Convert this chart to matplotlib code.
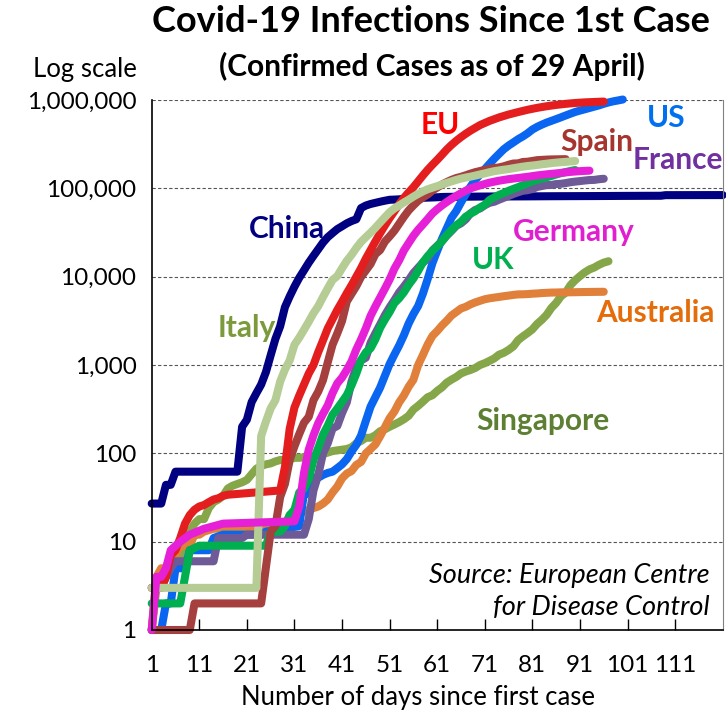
#Python libraries for math and graphics
import numpy as np
import matplotlib
matplotlib.use('Agg')
import matplotlib.pyplot as plt

plt.rcParams['font.family'] = ['Lato', 'DejaVu Sans']

#Confirmed cases (day since first case, cumulative cases)
china_day = [1, 3, 4, 5, 6, 19, 20, 21, 22, 23, 24, 25, 26, 27, 28, 29, 30, 31, 32, 33, 34,
             35, 36, 37, 38, 39, 40, 41, 42, 43, 44, 45, 46, 47, 48, 49, 50, 51, 52, 53, 54,
             55, 56, 57, 58, 59, 60, 61, 62, 63, 66, 70, 75, 80, 85, 90, 95, 100, 105, 108,
             109, 115, 121]
china_cases = [27, 27, 44, 44, 62, 62, 200, 240, 380, 480, 600, 830, 1287, 1975, 2744, 4515,
               5974, 7711, 9692, 11791, 14380, 17205, 20438, 24324, 28018, 31161, 34546, 37198,
               40171, 42638, 44653, 59804, 63851, 66492, 68500, 70548, 72436, 74185, 74576,
               75077, 76119, 76767, 77150, 77658, 78064, 78497, 78824, 79251, 79824, 80026,
               80300, 80700, 80900, 81100, 81400, 81600, 81800, 82100, 82300, 82400, 83700,
               83800, 83900]

singapore_day = list(range(1, 98))
singapore_cases = [1, 3, 3, 4, 5, 5, 7, 10, 13, 16, 18, 18, 24, 28, 30, 33, 40, 43, 45, 47,
                   50, 58, 67, 72, 75, 77, 81, 84, 84, 85, 89, 89, 90, 91, 93, 96, 98, 102,
                   106, 108, 110, 112, 117, 130, 138, 150, 150, 160, 178, 187, 200, 212, 226,
                   243, 266, 313, 345, 385, 432, 455, 509, 558, 631, 683, 732, 802, 844, 879,
                   926, 1000, 1049, 1114, 1189, 1309, 1375, 1481, 1623, 1910, 2108, 2299, 2532,
                   2918, 3252, 3699, 4427, 5050, 5992, 6588, 8014, 9125, 10141, 11178, 12075,
                   12693, 13624, 14423, 14951]

australia_day = [1, 2, 3, 4, 5, 6, 7, 9, 10, 11, 12, 14, 29, 30, 31, 32, 33, 35, 36, 37, 38,
                 39, 40, 41, 42, 43, 44, 45, 46, 47, 48, 49, 50, 51, 52, 53, 54, 55, 56, 57,
                 58, 59, 60, 61, 62, 63, 64, 65, 66, 67, 68, 69, 70, 71, 72, 73, 74, 75, 76,
                 77, 78, 79, 80, 81, 82, 83, 84, 85, 86, 87, 88, 89, 90, 91, 92, 93, 94, 95, 96]
australia_cases = [1, 4, 5, 5, 6, 7, 9, 9, 12, 12, 13, 14, 15, 20, 21, 21, 22, 24, 25, 27, 30,
                   36, 42, 52, 59, 63, 74, 80, 100, 112, 126, 156, 197, 250, 297, 377, 452, 568,
                   681, 1000, 1300, 1709, 2136, 2423, 2799, 3166, 3633, 3978, 4361, 4559, 4862,
                   5116, 5330, 5550, 5687, 5797, 5895, 6010, 6108, 6215, 6303, 6315, 6351, 6415,
                   6458, 6523, 6565, 6606, 6619, 6645, 6649, 6654, 6667, 6687, 6703, 6713, 6725,
                   6735, 6744]

us_day = [1, 3, 4, 5, 6, 8, 9, 13, 14, 16, 24, 25, 32, 33, 34, 35, 36, 37, 38, 39, 40] + list(range(41, 101))
us_cases = [1, 1, 2, 2, 5, 5, 8, 8, 11, 12, 12, 13, 15, 35, 35, 53, 53, 57, 60, 62, 68,
            75, 86, 105, 125, 159, 233, 338, 433, 554, 754, 1025, 1312, 1663, 2174, 2951,
            3774, 4661, 6427, 9415, 14250, 19624, 26747, 35206, 46442, 55231, 69194, 85991,
            104686, 124665, 143025, 164620, 189618, 216721, 245540, 277205, 304826, 330891,
            360000, 386800, 419975, 462780, 496535, 526396, 555313, 580619, 607670, 636350,
            667801, 699706, 732197, 759086, 784326, 811865, 840351, 869170, 905358, 938154,
            965785, 988197, 1012582]

france_day = [1, 3, 4, 5, 6, 14, 15, 20, 21, 33] + list(range(34, 97))
france_cases = [3, 3, 4, 5, 6, 6, 11, 11, 12, 12, 18, 38, 57, 100, 130, 191, 204, 285, 377,
                653, 949, 1126, 1209, 1784, 2281, 2876, 3661, 4499, 5423, 6633, 7730, 9134,
                10995, 12612, 14459, 16018, 19856, 22302, 25233, 29155, 32964, 37575, 40174,
                44550, 52128, 56989, 59105, 64338, 68605, 70478, 74390, 78167, 82048, 86334,
                90276, 93790, 95403, 98076, 103573, 106206, 108847, 109252, 111821, 112606,
                114657, 117324, 119151, 120804, 122577, 124114, 124575, 126835, 128339]

uk_day = [1, 7, 8, 9, 11, 25, 26, 28] + list(range(29, 91))
uk_cases = [2, 2, 4, 8, 9, 9, 13, 13, 15, 20, 23, 36, 40, 51, 85, 115, 163, 206, 273, 321,
            382, 456, 590, 798, 1140, 1391, 1543, 1950, 2626, 3269, 3983, 5018, 5683, 6650,
            8077, 9529, 11658, 14543, 17089, 19522, 22141, 25150, 29474, 33718, 38168, 41903,
            47806, 51608, 55242, 60733, 65077, 73758, 78991, 84279, 88621, 93873, 98476,
            103093, 108692, 114217, 120067, 124743, 129044, 133495, 138078, 143464, 148377,
            152840, 157149, 161145]

spain_day = [1, 9, 10, 24] + list(range(26, 89))
spain_cases = [1, 1, 2, 2, 13, 15, 32, 45, 84, 120, 165, 222, 259, 400, 500, 673, 1073, 1695,
               2277, 3146, 5232, 6391, 7798, 9942, 11748, 13910, 17963, 19980, 24926, 28572,
               33089, 39673, 47610, 56188, 64059, 72248, 78797, 85195, 94417, 102136, 110238,
               117710, 124736, 130759, 135032, 140510, 146690, 152446, 157022, 161852, 166019,
               169496, 172541, 177644, 184948, 190839, 191726, 198674, 200210, 204178, 208389,
               210000, 211500, 212500, 213000, 213500, 214000]

eu_day = list(range(1, 18)) + [28] + list(range(29, 69)) + [70, 72, 74, 76, 78, 80, 82, 84, 86, 88, 90, 92, 94, 96]
eu_cases = [3, 3, 3, 4, 7, 8, 11, 16, 20, 23, 25, 26, 28, 30, 31, 33, 34, 38, 70, 190, 330,
            450, 600, 800, 1000, 1400, 1900, 2600, 3300, 4200, 5200, 6500, 8000, 10000, 12500,
            16000, 20000, 25000, 31000, 38000, 46000, 55000, 66000, 78000, 90000, 103000,
            120000, 140000, 162000, 185000, 210000, 240000, 275000, 310000, 345000, 380000,
            415000, 450000, 520000, 580000, 635000, 685000, 730000, 775000, 815000, 850000,
            880000, 905000, 925000, 940000, 950000, 960000]

italy_day = [1, 23] + list(range(24, 91))
italy_cases = [3, 3, 157, 229, 322, 400, 650, 888, 1128, 1694, 2036, 2502, 3089, 3858, 4636,
               5883, 7375, 9172, 10149, 12462, 15113, 17660, 21157, 24747, 27980, 31506, 35713,
               41035, 47021, 53578, 59138, 63927, 69176, 74386, 80589, 86498, 92472, 97689,
               101739, 105792, 110574, 115242, 119827, 124632, 128948, 132547, 135586, 139422,
               143626, 147577, 152271, 156363, 159516, 162488, 165155, 168941, 172434, 175925,
               178972, 181228, 183957, 187327, 189973, 192994, 195351, 197675, 199414, 201505,
               203591]

germany_day = [1, 2, 3, 4, 5, 7, 9, 12, 16, 31] + list(range(32, 94))
germany_cases = [1, 4, 4, 5, 8, 10, 12, 14, 16, 17, 25, 60, 110, 160, 220, 280, 350, 480, 620,
                 720, 880, 1100, 1500, 1950, 2600, 3600, 4600, 5800, 7300, 9300, 12300, 15300,
                 19800, 24000, 29000, 34000, 39000, 45000, 52000, 58000, 64000, 70000, 76000,
                 82000, 88000, 94000, 100000, 104000, 108000, 112000, 116000, 119000, 122000,
                 124500, 127000, 129000, 131000, 133000, 135000, 137500, 140000, 142000,
                 144000, 146000, 147500, 149500, 151500, 153500, 155000, 156500, 157500,
                 158500]

#series in drawing order: data, line colour
series = [
    (china_day, china_cases, '#000080'),
    (singapore_day, singapore_cases, '#86A64A'),
    (australia_day, australia_cases, '#E0803A'),
    (us_day, us_cases, '#0A66F0'),
    (france_day, france_cases, '#6E5A96'),
    (uk_day, uk_cases, '#00B050'),
    (spain_day, spain_cases, '#A5403F'),
    (eu_day, eu_cases, '#E41E1E'),
    (italy_day, italy_cases, '#B5CC95'),
    (germany_day, germany_cases, '#E620D7'),
]

#country labels: text, pixel position, colour
labels = [
    ('EU', 440, 125, '#FF0000'),
    ('US', 666, 118, '#0070F0'),
    ('Spain', 597, 142, '#A5352E'),
    ('France', 678, 160, '#7030A0'),
    ('China', 287, 229, '#000080'),
    ('Germany', 574, 232, '#E020D0'),
    ('UK', 493, 260, '#00B050'),
    ('Italy', 247, 328, '#7C9A3C'),
    ('Australia', 655, 313, '#E46C0A'),
    ('Singapore', 543, 421, '#5D7F33'),
]

W, H = 726, 714
fig = plt.figure(figsize=(W/100, H/100), dpi=100)
ax = fig.add_axes([151.7/W, 1-630/H, (722.7-151.7)/W, 530/H])

for d, c, col in series:
    ax.plot(d, c, color=col, lw=5.8, solid_capstyle='round',
            solid_joinstyle='round', clip_on=False)

ax.set_yscale('log')
ax.set_ylim(1, 1e6)
ax.set_xlim(1, 121)
yt = [1, 10, 100, 1000, 10000, 100000, 1000000]
ax.set_yticks(yt)
ax.set_yticklabels(['{:,}'.format(v) for v in yt])
ax.minorticks_off()
xt = list(range(1, 121, 10))
ax.set_xticks(xt)
ax.set_xticklabels([str(v) for v in xt])
ax.tick_params(axis='y', length=0, pad=11, labelsize=17.5)
ax.tick_params(axis='x', direction='in', length=8, width=1, pad=18, labelsize=17.5)

ax.grid(axis='y', linestyle=(0, (3, 2)), color='#555555', lw=0.8)
ax.spines['top'].set_visible(False)
ax.spines['right'].set_color('#808080')
ax.spines['right'].set_linewidth(0.8)
ax.spines['left'].set_linewidth(1.2)
ax.spines['bottom'].set_linewidth(1.2)

for t, x, y, col in labels:
    fig.text(x/W, 1-y/H, t, color=col, fontsize=21.5, fontweight='bold',
             ha='center', va='center')

fig.text(710/W, 1-576/H, 'Source: European Centre', fontsize=19.5, style='italic',
         ha='right', va='center')
fig.text(710/W, 1-607/H, 'for Disease Control', fontsize=19.5, style='italic',
         ha='right', va='center')

fig.text(431/W, 1-22/H, 'Covid-19 Infections Since 1st Case', fontsize=26,
         fontweight='bold', ha='center', va='center')
fig.text(432/W, 1-66/H, '(Confirmed Cases as of 29 April)', fontsize=21.5,
         fontweight='bold', ha='center', va='center')
fig.text(85/W, 1-70/H, 'Log scale', fontsize=18.5, ha='center', va='center')
fig.text(418/W, 1-697/H, 'Number of days since first case', fontsize=18.5,
         ha='center', va='center')

plt.savefig('out.png', dpi=100)
